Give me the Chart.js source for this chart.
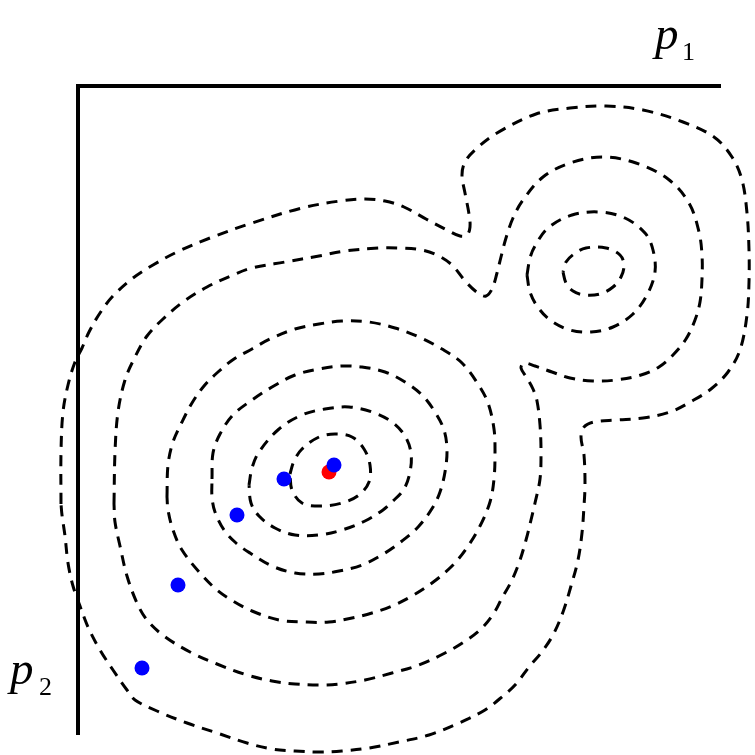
<!DOCTYPE html>
<html>
<head>
<meta charset="utf-8">
<script src="https://cdn.jsdelivr.net/npm/chart.js@4.4.1/dist/chart.umd.min.js"></script>
<style>html,body{margin:0;padding:0;background:#fff;}canvas{display:block;}</style>
</head>
<body>
<canvas id="c" width="755" height="755"></canvas>
<script>
// Axis labels
const xLabel = {main: 'p', sub: '1'};
const yLabel = {main: 'p', sub: '2'};

// Contour lines, values read in the chart's (p1, p2) units
const contourOuter = [
  [61,504],[61,452],[63,412],[68,385],[75,362],[82,348],[89,332],[100,313],[113,296],[133,278],[153,265],[177,252],
  [210,238],[252,223],[302,208],[340,201],[365,199],[385,201],[404,207],[426,219],[447,230],[460,236],[467,235],
  [470,227],[469,214],[465,193],[462,175],[465,162],[476,149],[497,133],[536,114],[570,108],[606,106],[643,110],
  [683,122],[714,137],[732,157],[742,180],[747,213],[749,250],[749,282],[747,315],[740,350],[728,372],[711,389],
  [692,401],[670,412],[643,418],[616,420],[594,422],[584,427],[581,437],[584,455],[585,485],[584,506],[582,533],
  [578,560],[571,586],[563,612],[553,635],[541,653],[529,667],[516,684],[503,696],[485,710],[459,723],[429,735],
  [399,742],[369,748],[342,751],[319,752],[295,751],[272,749],[247,743],[217,733],[187,723],[157,711],[135,700],
  [127,690],[113,670],[100,650],[88,627],[80,606],[73,586],[68,563],[65,536],[62,515]
];
const contourBoth = [
  [114,504],[115,452],[118,412],[125,380],[134,359],[147,336],[163,319],[183,302],[207,287],[233,275],[252,268],
  [285,262],[319,256],[345,251],[379,248],[399,248],[422,250],[437,255],[452,265],[466,282],[478,293],[486,296],
  [492,289],[497,273],[501,257],[506,238],[513,218],[523,200],[543,177],[570,163],[603,157],[636,163],[668,179],
  [689,203],[699,232],[702,255],[702,279],[700,302],[695,320],[686,339],[673,355],[659,367],[641,375],[616,380],
  [593,381],[570,378],[552,372],[535,366],[524,363],[521,368],[527,378],[533,389],[537,401],[540,425],[541,452],
  [540,479],[535,503],[531,520],[526,540],[519,563],[511,582],[502,598],[494,613],[481,629],[464,642],[445,653],
  [419,665],[392,673],[365,680],[339,684],[319,685],[295,684],[272,681],[247,675],[217,664],[190,652],[164,636],
  [147,620],[137,603],[127,576],[120,546],[115,522]
];
const contourMain4 = [
  [167,497],[168,465],[173,442],[182,422],[192,403],[204,386],[218,372],[234,359],[252,349],[270,339],[295,329],
  [319,324],[342,321],[369,322],[395,328],[419,337],[442,349],[462,363],[478,384],[488,403],[494,429],[495,452],
  [494,479],[490,502],[480,526],[466,549],[452,566],[432,583],[412,596],[392,606],[372,613],[352,618],[329,622],
  [305,622],[279,620],[252,611],[233,601],[217,590],[200,573],[182,550],[173,530],[168,510]
];
const contourMain3 = [
  [212,479],[213,453],[220,434],[233,415],[252,400],[272,387],[295,375],[319,369],[342,366],[362,367],[385,372],
  [405,382],[422,395],[435,412],[444,430],[447,450],[445,472],[440,492],[433,507],[419,526],[402,541],[385,553],
  [362,565],[339,571],[319,574],[295,573],[272,566],[250,553],[236,543],[224,530],[215,512],[212,497]
];
const contourMain2 = [
  [249,485],[252,468],[259,452],[279,429],[302,415],[325,409],[349,407],[372,412],[392,422],[405,436],[411,453],
  [410,472],[404,489],[392,502],[383,510],[365,521],[342,530],[319,535],[295,535],[275,528],[259,516],[251,503]
];
const contourMain1 = [
  [290,474],[294,461],[302,449],[319,437],[335,434],[352,437],[364,449],[370,465],[369,482],[359,495],[342,503],
  [320,506],[302,503],[292,490]
];
const contourSide1 = [
  [563,272],[566,283],[573,291],[584,295],[600,294],[613,287],[621,277],[624,265],[620,255],[606,248],[586,248],
  [574,254],[566,262]
];
const contourSide2 = [
  [527,275],[530,258],[535,246],[548,228],[572,215],[600,212],[625,218],[645,233],[653,250],[655,272],[647,295],
  [633,314],[613,327],[591,332],[570,330],[550,320],[537,306],[530,292]
];
const contours = [contourOuter, contourBoth, contourMain4, contourMain3, contourMain2, contourMain1, contourSide1, contourSide2];

// Sample points
const blueX = [334, 284, 237, 178, 142];
const blueY = [465, 479, 515, 585, 668];
const redX = [329];
const redY = [472];

const toPts = (arr) => { const p = arr.map(([x, y]) => ({x, y})); p.push({x: arr[0][0], y: arr[0][1]}); return p; };

const datasets = [];
datasets.push({
  data: blueX.map((x, i) => ({x, y: blueY[i]})),
  pointRadius: 7.5, pointBackgroundColor: '#0000ff', pointBorderWidth: 0, showLine: false, order: 0, clip: false
});
datasets.push({
  data: redX.map((x, i) => ({x, y: redY[i]})),
  pointRadius: 7.5, pointBackgroundColor: '#ff0000', pointBorderWidth: 0, showLine: false, order: 1, clip: false
});
contours.forEach(c => datasets.push({
  data: toPts(c), showLine: true, borderColor: '#000', borderWidth: 3, borderDash: [11, 8],
  pointRadius: 0, tension: 0.35, fill: false, clip: false, order: 2
}));

const labelPlugin = {
  id: 'axisLabels',
  afterDraw(chart) {
    const ctx = chart.ctx;
    ctx.save();
    ctx.fillStyle = '#000';
    ctx.textBaseline = 'alphabetic';
    ctx.textAlign = 'left';
    ctx.font = 'italic 47px "Liberation Serif", "DejaVu Serif", serif';
    ctx.fillText(xLabel.main, 655, 49);
    ctx.fillText(yLabel.main, 10, 684);
    ctx.font = '26px "Liberation Serif", "DejaVu Serif", serif';
    ctx.fillText(xLabel.sub, 682, 60);
    ctx.fillText(yLabel.sub, 39, 695);
    ctx.restore();
  }
};

new Chart(document.getElementById('c'), {
  type: 'scatter',
  data: {datasets},
  options: {
    responsive: false,
    animation: false,
    events: [],
    layout: {padding: {left: 70, top: 78, right: 35, bottom: 21}},
    plugins: {legend: {display: false}, tooltip: {enabled: false}},
    scales: {
      x: {
        type: 'linear', position: 'top', min: 78, max: 720,
        ticks: {display: false}, grid: {display: false},
        border: {display: true, width: 4, color: '#000'}
      },
      y: {
        type: 'linear', position: 'left', reverse: true, min: 86, max: 734,
        ticks: {display: false}, grid: {display: false},
        border: {display: true, width: 4, color: '#000'}
      }
    }
  },
  plugins: [labelPlugin]
});
</script>
</body>
</html>
